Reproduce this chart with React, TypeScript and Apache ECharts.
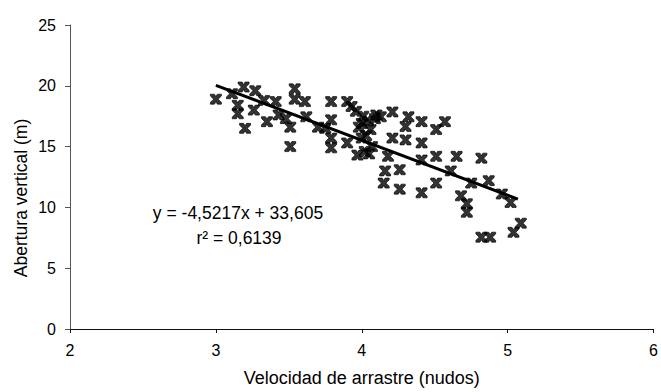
import React, { useEffect, useRef } from "react";
import * as echarts from "echarts";

const speedKnots = [
  3.0, 3.11, 3.19, 3.27, 3.15, 3.15, 3.2, 3.26, 3.35, 3.33, 3.41, 3.43, 3.48, 3.51, 3.51, 3.54, 3.54, 3.61, 3.62,
  3.7, 3.75, 3.79, 3.79, 3.79, 3.79, 3.9, 3.93, 3.9, 3.98, 4.0, 4.02,
  3.96, 4.01, 4.04, 4.0, 4.06, 4.03, 4.09, 3.97, 4.05, 4.1,
  4.13, 4.21, 4.32, 4.3, 4.41, 4.51, 4.57, 4.21, 4.3, 4.41, 4.07, 4.18, 4.41, 4.51, 4.65, 4.82,
  4.61, 4.16, 4.26, 4.15, 4.26, 4.41, 4.51, 4.75, 4.87, 4.68, 4.72, 4.72, 4.96, 5.02,
  4.82, 4.88, 5.04, 5.09,
];
const openingM = [
  18.9, 19.35, 19.9, 19.6, 18.4, 17.7, 16.5, 18.0, 17.05, 18.8, 18.7, 17.6, 17.3, 16.6, 15.0, 19.75, 18.9, 18.7, 17.45,
  16.6, 16.5, 18.7, 17.2, 15.7, 14.9, 18.7, 18.3, 15.3, 16.6, 15.7, 14.6,
  17.9, 17.5, 17.1, 16.9, 16.4, 15.9, 17.3, 14.3, 14.4, 17.6,
  17.45, 17.85, 17.45, 16.65, 17.05, 16.4, 17.05, 15.7, 15.55, 15.3, 15.0, 14.2, 13.9, 14.2, 14.2, 14.05,
  13.0, 13.0, 13.1, 12.0, 11.5, 11.2, 12.0, 12.0, 12.2, 10.95, 10.3, 9.6, 11.1, 10.4,
  7.55, 7.55, 7.95, 8.7,
];

// Trend line as printed on the chart
const trendSlope = -4.5217;
const trendIntercept = 33.605;
const trendRangeX = [3.0, 5.07];

const equationText = "y = -4,5217x + 33,605";
const r2Text = "r\u00B2 = 0,6139";

const xTicks = [2, 3, 4, 5, 6];
const yTicks = [0, 5, 10, 15, 20, 25];

const FONT = "'Liberation Sans', Arial, sans-serif";

const markerPath =
  "path://M0,0 H4 L5.5,2.6 L7,0 H11 V2 L7.7,5.5 L11,9 V11 H7 L5.5,8.4 L4,11 H0 V9 L3.3,5.5 L0,2 Z";

export default function App() {
  const ref = useRef<HTMLDivElement>(null);

  useEffect(() => {
    if (!ref.current) return;
    const chart = echarts.init(ref.current, null, { renderer: "svg" });
    const points = speedKnots.map((x, i) => [x, openingM[i]]);
    const trend = trendRangeX.map((x) => [x, trendSlope * x + trendIntercept]);

    chart.setOption({
      animation: false,
      backgroundColor: "#fff",
      grid: { left: 70, right: 3, top: 25, bottom: 59, containLabel: false },
      xAxis: {
        type: "value",
        min: xTicks[0],
        max: xTicks[xTicks.length - 1],
        interval: 1,
        name: "Velocidad de arrastre (nudos)",
        nameLocation: "middle",
        nameGap: 40,
        nameTextStyle: { fontFamily: FONT, fontSize: 18, color: "#000" },
        axisLine: { onZero: false, lineStyle: { color: "#111", width: 1 } },
        axisTick: { show: true, length: 4, lineStyle: { color: "#111" } },
        axisLabel: { fontFamily: FONT, fontSize: 16, color: "#000", margin: 13 },
        splitLine: { show: false },
      },
      yAxis: {
        type: "value",
        min: yTicks[0],
        max: yTicks[yTicks.length - 1],
        interval: 5,
        axisLine: { show: true, onZero: false, lineStyle: { color: "#555", width: 1 } },
        axisTick: { show: true, length: 5, lineStyle: { color: "#555" } },
        axisLabel: { fontFamily: FONT, fontSize: 16, color: "#000", margin: 14 },
        splitLine: { show: false },
      },
      graphic: [
        {
          type: "text",
          x: 21,
          y: 198,
          rotation: Math.PI / 2,
          style: {
            text: "Abertura vertical (m)",
            fontFamily: FONT,
            fontSize: 17.5,
            fill: "#000",
            align: "center",
            verticalAlign: "middle",
          },
        },
        {
          type: "text",
          x: 238,
          y: 213,
          style: {
            text: equationText,
            fontFamily: FONT,
            fontSize: 17.5,
            fill: "#000",
            align: "center",
            verticalAlign: "middle",
          },
        },
        {
          type: "text",
          x: 239,
          y: 238,
          style: {
            text: r2Text,
            fontFamily: FONT,
            fontSize: 17.5,
            fill: "#000",
            align: "center",
            verticalAlign: "middle",
          },
        },
      ],
      series: [
        {
          type: "scatter",
          data: points,
          symbol: markerPath,
          symbolSize: [11, 10],
          itemStyle: { color: "#000", borderColor: "#000", borderWidth: 0.8 },
          z: 2,
        },
        {
          type: "line",
          data: trend,
          showSymbol: false,
          symbol: "none",
          lineStyle: { color: "#000", width: 3 },
          z: 3,
        },
      ],
    });
    return () => chart.dispose();
  }, []);

  return (
    <div
      ref={ref}
      style={{ position: "fixed", left: 0, top: 0, width: 661, height: 392 }}
    />
  );
}
